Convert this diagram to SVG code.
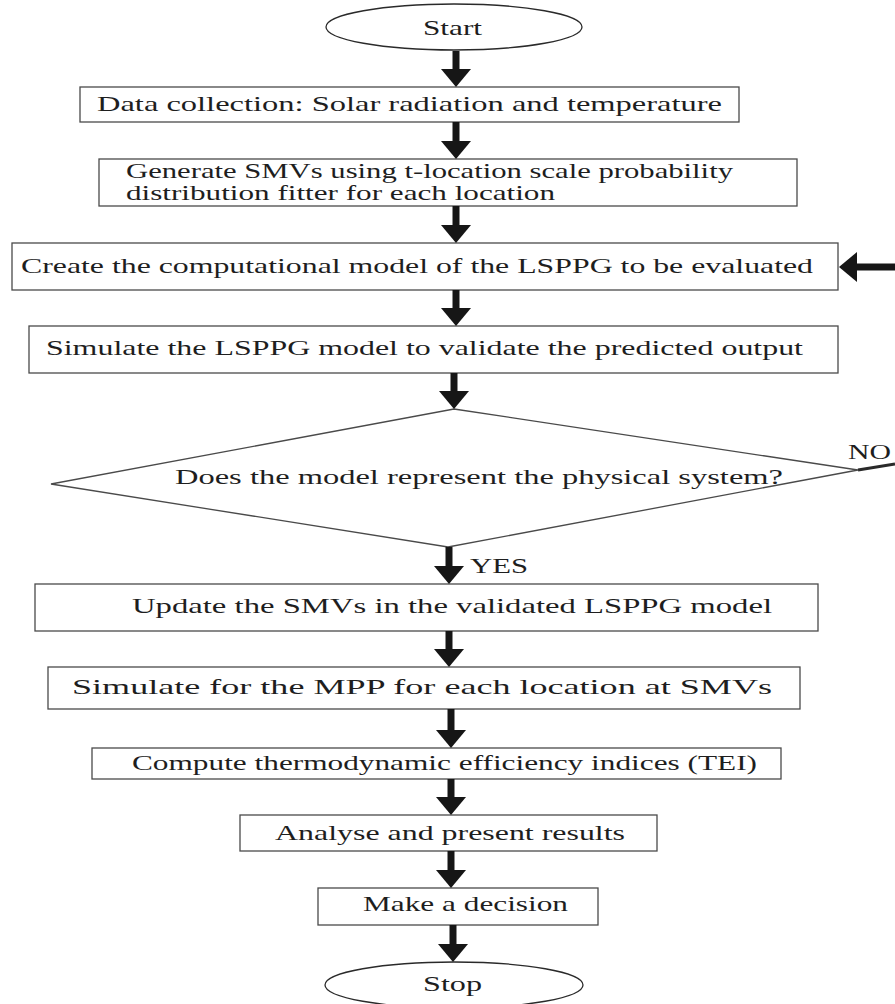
<svg xmlns="http://www.w3.org/2000/svg" width="895" height="1004" viewBox="0 0 895 1004">
  <style>
    .box { fill: #ffffff; stroke: #4a4a4a; stroke-width: 1.3; }
    .term { fill: #ffffff; stroke: #2a2a2a; stroke-width: 1.3; }
    .lbl { font-family: "Liberation Serif", "Times New Roman", serif; font-size: 21px; fill: #1e1e1e; }
    .flow { stroke: #161616; stroke-width: 7; fill: none; }
    .back { stroke: #2a2a2a; stroke-width: 3; fill: none; }
  </style>
  <defs>
    <!-- filled triangular head: 18 long, 30 wide -->
    <marker id="head" markerUnits="userSpaceOnUse" markerWidth="18" markerHeight="30" refX="8" refY="15" orient="auto">
      <path d="M0,0 L18,15 L0,30 z" fill="#161616"/>
    </marker>
  </defs>

  <rect width="895" height="1004" fill="#ffffff"/>

  <g id="start">
    <ellipse class="term" cx="454" cy="27" rx="128" ry="23"/>
    <text class="lbl" x="423" y="35" textLength="59" lengthAdjust="spacingAndGlyphs">Start</text>
  </g>

  <g id="data-collection">
    <rect class="box" x="80" y="87" width="659" height="35"/>
    <text class="lbl" x="97" y="111" textLength="625" lengthAdjust="spacingAndGlyphs">Data collection: Solar radiation and temperature</text>
  </g>

  <g id="generate-smvs">
    <rect class="box" x="99" y="159" width="698" height="47"/>
    <text class="lbl" x="126" y="178" textLength="607" lengthAdjust="spacingAndGlyphs">Generate SMVs using t-location scale probability</text>
    <text class="lbl" x="126" y="200" textLength="429" lengthAdjust="spacingAndGlyphs">distribution fitter for each location</text>
  </g>

  <g id="create-model">
    <rect class="box" x="12" y="243" width="826" height="47"/>
    <text class="lbl" x="21" y="273" textLength="792" lengthAdjust="spacingAndGlyphs">Create the computational model of the LSPPG to be evaluated</text>
  </g>

  <g id="simulate-model">
    <rect class="box" x="29" y="326" width="809" height="47"/>
    <text class="lbl" x="46" y="355" textLength="757" lengthAdjust="spacingAndGlyphs">Simulate the LSPPG model to validate the predicted output</text>
  </g>

  <g id="validation-check">
    <polygon class="box" points="454,409 858,470 448,547 51,484"/>
    <text class="lbl" x="175" y="484" textLength="608" lengthAdjust="spacingAndGlyphs">Does the model represent the physical system?</text>
  </g>

  <g id="update-smvs">
    <rect class="box" x="35" y="584" width="783" height="47"/>
    <text class="lbl" x="132" y="613" textLength="640" lengthAdjust="spacingAndGlyphs">Update the SMVs in the validated LSPPG model</text>
  </g>

  <g id="simulate-mpp">
    <rect class="box" x="48" y="667" width="752" height="42"/>
    <text class="lbl" x="72" y="694" textLength="700" lengthAdjust="spacingAndGlyphs">Simulate for the MPP for each location at SMVs</text>
  </g>

  <g id="compute-tei">
    <rect class="box" x="92" y="748" width="689" height="31"/>
    <text class="lbl" x="132" y="770" textLength="625" lengthAdjust="spacingAndGlyphs">Compute thermodynamic efficiency indices (TEI)</text>
  </g>

  <g id="analyse">
    <rect class="box" x="240" y="815" width="417" height="36"/>
    <text class="lbl" x="275" y="840" textLength="350" lengthAdjust="spacingAndGlyphs">Analyse and present results</text>
  </g>

  <g id="decision">
    <rect class="box" x="318" y="888" width="280" height="37"/>
    <text class="lbl" x="363" y="911" textLength="205" lengthAdjust="spacingAndGlyphs">Make a decision</text>
  </g>

  <g id="stop">
    <ellipse class="term" cx="454" cy="985" rx="129" ry="23"/>
    <text class="lbl" x="423" y="991" textLength="59" lengthAdjust="spacingAndGlyphs">Stop</text>
  </g>

  <!-- connectors -->
  <g id="connectors">
    <line class="flow" x1="456" y1="51" x2="456" y2="77" marker-end="url(#head)"/>
    <line class="flow" x1="456" y1="122" x2="456" y2="149" marker-end="url(#head)"/>
    <line class="flow" x1="456" y1="206" x2="456" y2="233" marker-end="url(#head)"/>
    <line class="flow" x1="456" y1="290" x2="456" y2="316" marker-end="url(#head)"/>
    <line class="flow" x1="454" y1="373" x2="454" y2="399" marker-end="url(#head)"/>
    <line class="flow" x1="449" y1="547" x2="449" y2="574" marker-end="url(#head)"/>
    <line class="flow" x1="449" y1="631" x2="449" y2="657" marker-end="url(#head)"/>
    <line class="flow" x1="451" y1="709" x2="451" y2="738" marker-end="url(#head)"/>
    <line class="flow" x1="451" y1="779" x2="451" y2="805" marker-end="url(#head)"/>
    <line class="flow" x1="451" y1="851" x2="451" y2="878" marker-end="url(#head)"/>
    <line class="flow" x1="453" y1="925" x2="453" y2="952" marker-end="url(#head)"/>
    <!-- return path for the NO branch -->
    <line class="back" x1="858" y1="470" x2="895" y2="464"/>
    <line class="flow" x1="895" y1="267" x2="849" y2="267" marker-end="url(#head)"/>
    <text class="lbl" x="848" y="459" textLength="43" lengthAdjust="spacingAndGlyphs">NO</text>
    <text class="lbl" x="470" y="573" textLength="58" lengthAdjust="spacingAndGlyphs">YES</text>
  </g>
</svg>
